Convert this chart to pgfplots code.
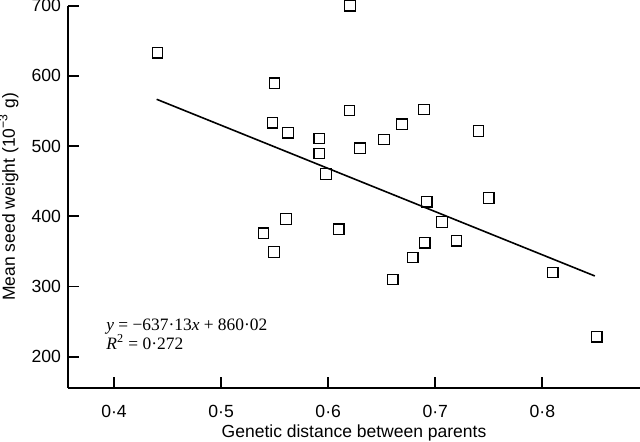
\documentclass[border=0pt]{standalone}
\usepackage{fontspec}
\setmainfont{Liberation Sans}
\newfontfamily\eqfont{Liberation Serif}
\usepackage{pgfplots}
\pgfplotsset{compat=1.18}
\begin{document}
\begin{tikzpicture}
\begin{axis}[
  scale only axis,
  width=286pt, height=191.15pt,
  at={(0,0)}, anchor=south west,
  xmin=0.357, xmax=0.8912,
  ymin=155.4, ymax=700,
  axis lines*=left,
  axis line style={line width=0.9pt},
  tick align=inside,
  major tick length=5.5pt,
  every tick/.style={line width=0.9pt, black},
  xtick={0.4,0.5,0.6,0.7,0.8},
  xticklabels={0·4,0·5,0·6,0·7,0·8},
  ytick={200,300,400,500,600,700},
  yticklabels={200,300,400,500,600,700},
  tick label style={font=\fontsize{8.8}{10}\selectfont},
  xticklabel style={yshift=-5.3pt},
  label style={font=\fontsize{8.75}{10}\selectfont},
  xlabel={Genetic distance between parents},
  xlabel style={at={(rel axis cs:0.5,0)}, anchor=base, yshift=-24.6pt},
  ylabel={Mean seed weight (10\textsuperscript{−3} g)},
  ylabel style={at={(rel axis cs:0,0.5)}, anchor=base, yshift=26.5pt},
]
\addplot[only marks, mark=square, mark size=2.6pt, mark options={line width=0.6pt, black}] coordinates {
(0.4404,633.0) (0.6204,700) (0.5497,589.5) (0.6198,551.0) (0.5478,533.3)
(0.5625,519.1) (0.5915,511.1) (0.5915,489.2) (0.6297,496.9) (0.5980,460.3)
(0.6895,552.4) (0.6690,531.1) (0.6522,509.7) (0.7402,521.5) (0.5606,396.2)
(0.5394,375.8) (0.5494,349.1) (0.6099,381.5) (0.6920,420.8) (0.7499,426.1)
(0.7063,391.9) (0.6902,362.4) (0.7197,365.2) (0.6790,341.6) (0.6603,309.7)
(0.8097,319.7) (0.8508,228.5)
};
\addplot[no marks, line width=0.8pt, black] coordinates {(0.4398,566.7) (0.849,315.0)};
\node[anchor=base west, inner sep=0pt, font=\eqfont\fontsize{8.7}{10}\selectfont] at (axis cs:0.3925,238) {\textit{y} = −637·13\textit{x} + 860·02};
\node[anchor=base west, inner sep=0pt, font=\eqfont\fontsize{8.7}{10}\selectfont] at (axis cs:0.3925,209.7) {\textit{R}\textsuperscript{2} = 0·272};
\end{axis}
\pgfresetboundingbox
\path[use as bounding box] (-34pt,-26.5pt) rectangle (286pt,194pt);
\end{tikzpicture}
\end{document}
